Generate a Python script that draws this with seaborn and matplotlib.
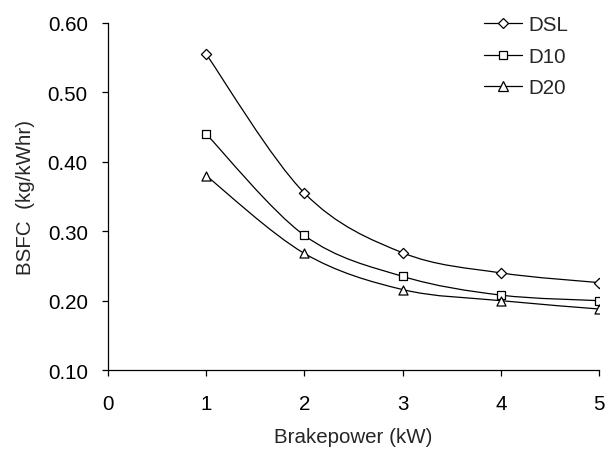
import numpy as np
import pandas as pd
import matplotlib
matplotlib.use("Agg")
import matplotlib.pyplot as plt
from matplotlib.path import Path
from matplotlib.patches import PathPatch
from matplotlib.lines import Line2D
import seaborn as sns

# ---- data ----
power = [1, 2, 3, 4, 5]
dsl = [0.555, 0.355, 0.269, 0.240, 0.226]
d10 = [0.440, 0.294, 0.235, 0.208, 0.200]
d20 = [0.380, 0.268, 0.216, 0.200, 0.188]
series_names = ["DSL", "D10", "D20"]
x_ticks = [0, 1, 2, 3, 4, 5]
y_ticks = [0.10, 0.20, 0.30, 0.40, 0.50, 0.60]

sns.set_theme(style="ticks")
plt.rcParams["font.family"] = ["Liberation Sans", "DejaVu Sans"]

FS = 14.8

fig = plt.figure(figsize=(6.15, 4.52), dpi=100)
ax = fig.add_axes([0.1756, 0.179, 0.7984, 0.768])

df = pd.DataFrame({
    "power": power * 3,
    "bsfc": dsl + d10 + d20,
    "fuel": [n for n in series_names for _ in power],
})

markers = {"DSL": "D", "D10": "s", "D20": "^"}
msize = {"DSL": 5.2, "D10": 6, "D20": 6.5}


def smooth_path(xs, ys):
    pts = np.column_stack([xs, ys]).astype(float)
    n = len(pts)
    verts = [pts[0]]
    codes = [Path.MOVETO]
    for i in range(n - 1):
        p0 = pts[i - 1] if i > 0 else pts[i]
        p1 = pts[i]
        p2 = pts[i + 1]
        p3 = pts[i + 2] if i + 2 < n else pts[i + 1]
        c1 = p1 + (p2 - p0) / 6.0
        c2 = p2 - (p3 - p1) / 6.0
        verts += [c1, c2, p2]
        codes += [Path.CURVE4] * 3
    return Path(verts, codes)


handles = []
for name in series_names:
    sub = df[df["fuel"] == name]
    ax.add_patch(PathPatch(smooth_path(sub["power"], sub["bsfc"]),
                           facecolor="none", edgecolor="black", lw=0.9,
                           transform=ax.transData, zorder=2))
    sns.scatterplot(data=sub, x="power", y="bsfc", marker=markers[name],
                    s=msize[name] ** 2, facecolor="white", edgecolor="black",
                    linewidth=0.9, ax=ax, zorder=3, legend=False)
    handles.append(Line2D([0], [0], color="black", lw=0.9, marker=markers[name],
                          markersize=msize[name], markerfacecolor="white",
                          markeredgecolor="black", markeredgewidth=0.9,
                          label=name))

ax.set_xlim(0, 5)
ax.set_ylim(0.10, 0.60)
ax.set_xticks(x_ticks)
ax.set_yticks(y_ticks)
ax.set_xticklabels([str(t) for t in x_ticks])
ax.set_yticklabels([f"{t:.2f}" for t in y_ticks])
ax.tick_params(axis="both", labelsize=FS, length=4.5, width=0.9,
               direction="out", colors="black")
ax.tick_params(axis="x", pad=12.5)
ax.tick_params(axis="y", pad=10)
for s in ["top", "right"]:
    ax.spines[s].set_visible(False)
for s in ["left", "bottom"]:
    ax.spines[s].set_linewidth(0.9)
    ax.spines[s].set_color("black")

ax.set_xlabel("Brakepower (kW)", fontsize=FS, labelpad=10)
ax.set_ylabel("BSFC  (kg/kWhr)", fontsize=FS, labelpad=9)

leg = ax.legend(handles=handles, loc="upper left", frameon=False,
                fontsize=FS, handlelength=1.87, handletextpad=0.3,
                labelspacing=0.62, borderaxespad=0.0, borderpad=0.0,
                bbox_to_anchor=(484 / 615, 1 - 16 / 452),
                bbox_transform=fig.transFigure)

fig.savefig("out.png", dpi=100)
